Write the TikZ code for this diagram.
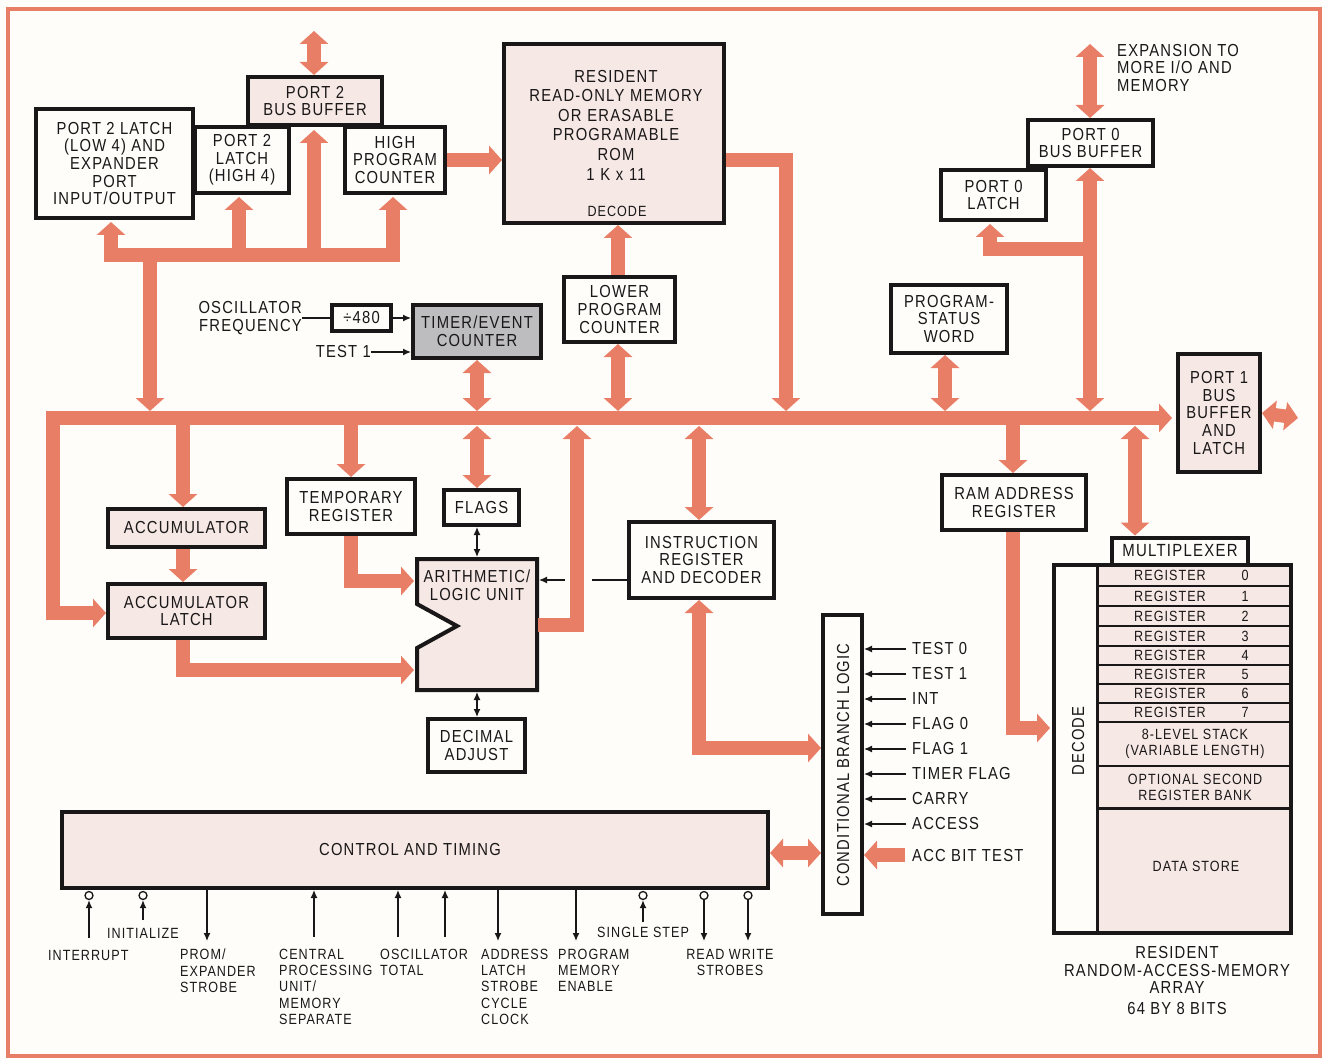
\documentclass[tikz,border=0pt]{standalone}
\usepackage{fontspec}
\setmainfont[FakeStretch=0.85,LetterSpace=7]{Liberation Sans}
\usetikzlibrary{arrows.meta}
\definecolor{salm}{HTML}{E87E66}
\definecolor{pinkf}{HTML}{F6E8E4}
\definecolor{paperc}{HTML}{FFFDFA}
\definecolor{greyf}{HTML}{BDBDBF}
\definecolor{inkc}{HTML}{1A1718}
\tikzset{
  boxn/.style={draw=inkc,line width=4pt,fill=paperc,inner sep=0pt,align=center,text=inkc,font=\txt},
  pinkn/.style={boxn,fill=pinkf},
  rown/.style={draw=inkc,line width=2.4pt,fill=pinkf,inner sep=0pt,align=center,text=inkc,font=\smtxt},
  lab/.style={inner sep=0pt,align=center,text=inkc,font=\txt},
  labl/.style={inner sep=0pt,align=left,anchor=west,text=inkc,font=\txt},
  small/.style={inner sep=0pt,align=left,anchor=west,text=inkc,font=\smtxt},
  smallc/.style={inner sep=0pt,align=center,text=inkc,font=\smtxt},
  fat/.style={draw=salm,line width=13.5pt},
  fatone/.style={fat,-{Triangle[length=13pt,width=28pt]}},
  fatboth/.style={fat,{Triangle[length=13pt,width=28pt]}-{Triangle[length=13pt,width=28pt]}},
  thin/.style={draw=inkc,line width=1.3pt},
  thinone/.style={thin,-{Latex[length=8pt,width=7pt]}},
  thinboth/.style={thin,{Latex[length=8pt,width=7pt]}-{Latex[length=8pt,width=7pt]}},
  pinc/.style={circle,draw=inkc,line width=1.3pt,fill=paperc,minimum size=8pt,inner sep=0pt},
}
\newcommand\txt{\fontsize{17.4}{17.6}\selectfont}
\newcommand\smtxt{\fontsize{14.8}{16.2}\selectfont}
\newcommand\bx[7][boxn]{%
  \pgfmathsetmacro\bxW{#5-#3-4}\pgfmathsetmacro\bxH{#6-#4-4}%
  \pgfmathsetmacro\bxX{(#3+#5)/2}\pgfmathsetmacro\bxY{(#4+#6)/2}%
  \node[#1,minimum width=\bxW pt,minimum height=\bxH pt] (#2) at (\bxX,\bxY) {#7};}
\newcommand\rw[5]{%
  \pgfmathsetmacro\bxH{#3-#2}\pgfmathsetmacro\bxY{(#3+#2)/2}%
  \node[rown,minimum width=194pt,minimum height=\bxH pt] (#1) at (1195,\bxY) {};
  \node[smallc] (#1t) at (1170,\bxY) {#4};
  \node[smallc] (#1n) at (1245,\bxY) {#5};}
\begin{document}
\begin{tikzpicture}[x=1pt,y=-1pt]
\useasboundingbox (0,0) rectangle (1322,1059);
\fill[paperc] (0,0) rectangle (1322,1059);
\draw[salm,line width=3.5pt] (8,9) rectangle (1320,1056);

% bus tap points
\coordinate (busL) at (46,418);
\coordinate (busR) at (1172,418);
\coordinate (tP2) at (150,418);
\coordinate (tLeft) at (53,418);
\coordinate (tAcc) at (183,418);
\coordinate (tTmp) at (351,418);
\coordinate (tTim) at (477,418);
\coordinate (tAlu) at (577,418);
\coordinate (tLpc) at (618,418);
\coordinate (tIns) at (699,418);
\coordinate (tRom) at (786,418);
\coordinate (tPsw) at (945,418);
\coordinate (tRam) at (1013,418);
\coordinate (tP0) at (1090,418);
\coordinate (tMux) at (1135,418);

% boxes
\bx[pinkn]{p2bb}{246}{75}{384}{127}{PORT 2\\BUS BUFFER}
\bx{p2ll}{34}{107}{195}{220}{PORT 2 LATCH\\(LOW 4) AND\\EXPANDER\\PORT\\INPUT/OUTPUT}
\bx{p2lh}{193}{125}{291}{195}{PORT 2\\LATCH\\(HIGH 4)}
\bx{hpc}{343}{125}{447}{195}{HIGH\\PROGRAM\\COUNTER}
\bx[pinkn]{rom}{502}{42}{726}{225}{}
\node[lab,text width=220pt] (romt) at (616,125) {\baselineskip=19.6pt RESIDENT\\READ-ONLY MEMORY\\OR ERASABLE\\PROGRAMABLE\\ROM\\1 K x 11\par};
\node[smallc] (romd) at (617,211) {DECODE};
\bx{lpc}{562}{275}{677}{344}{LOWER\\PROGRAM\\COUNTER}
\bx{div}{330}{303}{393}{333}{÷480}
\bx[boxn,fill=greyf]{tim}{411}{303}{543}{360}{TIMER/EVENT\\COUNTER}
\bx{psw}{889}{283}{1009}{355}{PROGRAM-\\STATUS\\WORD}
\bx{p0l}{939}{168}{1048}{222}{PORT 0\\LATCH}
\bx{p0b}{1026}{118}{1155}{168}{PORT 0\\BUS BUFFER}
\bx[pinkn]{p1}{1176}{352}{1262}{474}{PORT 1\\BUS\\BUFFER\\AND\\LATCH}
\bx[pinkn]{acc}{106}{507}{267}{549}{ACCUMULATOR}
\bx[pinkn]{lat}{106}{582}{267}{640}{ACCUMULATOR\\LATCH}
\bx{tmp}{285}{477}{417}{536}{TEMPORARY\\REGISTER}
\bx{flg}{442}{488}{521}{527}{FLAGS}
\bx{dec}{426}{717}{527}{774}{DECIMAL\\ADJUST}
\bx{ins}{627}{520}{776}{600}{INSTRUCTION\\REGISTER\\AND DECODER}
\bx{ram}{940}{473}{1088}{532}{RAM ADDRESS\\REGISTER}
\bx{cbl}{821}{613}{864}{916}{}
\node[lab,rotate=90] (cblt) at (843,765) {CONDITIONAL BRANCH LOGIC};
\bx[pinkn]{ctl}{60}{810}{770}{890}{}
\node[lab] (ctlt) at (410,850) {CONTROL AND TIMING};

% ALU
\filldraw[draw=inkc,line width=4pt,fill=pinkf,line join=miter]
  (417,559) -- (537,559) -- (537,690) -- (417,690) -- (417,648) -- (457,626) -- (417,604) -- cycle;
\node[lab] (alu) at (477,585) {ARITHMETIC/\\LOGIC UNIT};
\coordinate (aluN) at (477,557);
\coordinate (aluS) at (477,692);
\coordinate (aluE) at (538,625);
\coordinate (aluI) at (539,580);
\coordinate (aluA) at (414,581);
\coordinate (aluB) at (414,670);

% RAM array
\node[boxn,fill=paperc,minimum width=136pt,minimum height=27pt,font=\fontsize{17.6}{18}\selectfont] (mux) at (1180,551) {MULTIPLEXER};
\rw{r0}{565}{586}{REGISTER}{0}
\rw{r1}{586}{606}{REGISTER}{1}
\rw{r2}{606}{626}{REGISTER}{2}
\rw{r3}{626}{646}{REGISTER}{3}
\rw{r4}{646}{665}{REGISTER}{4}
\rw{r5}{665}{684}{REGISTER}{5}
\rw{r6}{684}{703}{REGISTER}{6}
\rw{r7}{703}{722}{REGISTER}{7}
\node[rown,minimum width=194pt,minimum height=44pt] (stk) at (1195,744) {8-LEVEL STACK\\(VARIABLE LENGTH)};
\node[rown,minimum width=194pt,minimum height=43pt] (bnk) at (1195,787.5) {OPTIONAL SECOND\\REGISTER BANK};
\node[rown,minimum width=194pt,minimum height=125pt] (dat) at (1195,871) {};
\node[smallc] (datt) at (1196,866) {DATA STORE};
\node[draw=inkc,line width=4pt,minimum width=237pt,minimum height=368pt,inner sep=0pt] (arr) at (1172.5,749) {};
\draw[draw=inkc,line width=2.8pt] (1097,565) -- (1097,933);
\node[lab,rotate=90] (dect) at (1078,741) {DECODE};
\coordinate (decW) at (1050,728);

% free text
\node[labl,align=right,anchor=east] (osc) at (302,318) {OSCILLATOR\\FREQUENCY};
\node[labl,anchor=east] (t1) at (371,352) {TEST 1};
\node[labl] (exp) at (1117,68) {EXPANSION TO\\MORE I/O AND\\MEMORY};
\node[lab] (resi) at (1177,970) {RESIDENT\\RANDOM-ACCESS-MEMORY\\ARRAY};
\node[lab] (sixt) at (1177,1009) {64 BY 8 BITS};
\coordinate (topP2) at (314,31);
\coordinate (topP0) at (1090,44);
\coordinate (p1out) at (1298,418);

% fat connectors
\draw[fatone] (busL) -- (busR);
\draw[fatboth] (topP2) -- (topP2 |- p2bb.north);
\draw[fatboth] (topP0) -- (topP0 |- p0b.north);
\coordinate (j1) at (150,255);
\draw[fatone] (j1) -- (tP2 |- 0,411);
\draw[fatone] (j1) -| (111,222);
\draw[fatone] (j1) -| (239,197);
\draw[fatone] (j1) -| (314,130);
\draw[fatone] (j1) -| (393,197);
\draw[fatone] (hpc.east) -- (hpc.east -| rom.west);
\draw[fatboth] (tim.south -| tTim) -- (tTim |- 0,411);
\draw[fatboth] (tTim |- 0,426) -- (tTim |- flg.north);
\draw[fatone] (lpc.north -| tLpc) -- (tLpc |- rom.south);
\draw[fatboth] (lpc.south -| tLpc) -- (tLpc |- 0,411);
\draw[fatboth] (psw.south -| tPsw) -- (tPsw |- 0,411);
\draw[fatone] (rom.east |- 0,160) -| (tRom |- 0,411);
\draw[fatboth] (tIns |- 0,426) -- (tIns |- ins.north);
\draw[fatboth] (tP0 |- 0,411) -- (tP0 |- p0b.south);
\coordinate (j2) at (1090,249);
\draw[fatone] (j2) -| (990,224);
\draw[fatboth] (p1.east) -- (p1out);
\draw[fatone] (tRam |- 0,424) -- (tRam |- ram.north);
\draw[fatboth] (tMux |- 0,426) -- (tMux |- mux.north);
\draw[fatone] (ram.south -| tRam) |- (decW);
\coordinate (j3) at (53,613);
\draw[fatone] (tLeft) -- (j3) -- (lat.west |- j3);
\draw[fatone] (tAcc) -- (tAcc |- acc.north);
\draw[fatone] (acc.south -| tAcc) -- (tAcc |- lat.north);
\draw[fatone] (tTmp) -- (tTmp |- tmp.north);
\draw[fatone] (tmp.south -| tTmp) |- (aluA);
\draw[fatone] (lat.south -| tAcc) |- (aluB);
\draw[fatone] (aluE) -| (tAlu |- 0,426);
\coordinate (j4) at (699,748);
\draw[fatboth] (j4 |- ins.south) |- (j4 -| cbl.west);
\coordinate (accIn) at (905,855);
\draw[fatone] (accIn) -- (accIn -| cbl.east);
\coordinate (ctlBi) at (795,853);
\draw[fatboth] (ctlBi -| ctl.east) -- (ctlBi -| cbl.west);

% thin connectors
\draw[thin] (osc.east |- div.west) -- (div.west);
\draw[thinone] (div.east) -- (div.east -| tim.west);
\draw[thinone] (t1.east) -- (t1.east -| tim.west);
\draw[thinboth] (flg.south -| aluN) -- (aluN);
\draw[thinboth] (aluS) -- (dec.north -| aluS);
\coordinate (insGapA) at (592,580);
\coordinate (insGapB) at (565,580);
\draw[thin] (ins.west |- insGapA) -- (insGapA);
\draw[thinone] (insGapB) -- (aluI);

% branch inputs
\foreach \nm/\yy/\tx in {a/649/TEST 0,b/674/TEST 1,c/699/INT,d/724/FLAG 0,e/749/FLAG 1,f/774/TIMER FLAG,g/799/CARRY,h/824/ACCESS}{
  \node[labl] (in\nm) at (912,\yy) {\tx};
  \draw[thinone] (in\nm.west) ++(-6,0) -- (in\nm.west -| cbl.east);
}
\node[labl] (inz) at (912,856) {ACC BIT TEST};

% control-line pins
\foreach \nm/\xx in {a/89,b/143,c/643,d/704,e/748}{
  \node[pinc] (pin\nm) at (\xx,895.5) {};
}
\coordinate (sa) at (89,938);
\coordinate (sb) at (143,920);
\coordinate (sc) at (207,941);
\coordinate (sd) at (314,937);
\coordinate (se) at (398,937);
\coordinate (sf) at (445,937);
\coordinate (sg) at (498,941);
\coordinate (sh) at (576,941);
\coordinate (si) at (643,922);
\coordinate (sj) at (704,941);
\coordinate (sk) at (748,941);
\draw[thinone] (sa) -- (pina.south);
\draw[thinone] (sb) -- (pinb.south);
\draw[thinone] (sc |- ctl.south) -- (sc);
\draw[thinone] (sd) -- (sd |- ctl.south);
\draw[thinone] (se) -- (se |- ctl.south);
\draw[thinone] (sf) -- (sf |- ctl.south);
\draw[thinone] (sg |- ctl.south) -- (sg);
\draw[thinone] (sh |- ctl.south) -- (sh);
\draw[thinone] (si) -- (pinc.south);
\draw[thinone] (pind.south) -- (sj);
\draw[thinone] (pine.south) -- (sk);

% control-line labels
\node[small] (l1) at (48,955) {INTERRUPT};
\node[small] (l2) at (107,933.5) {INITIALIZE};
\node[small,anchor=north west] (l3) at (180,949) {PROM/\\EXPANDER\\STROBE};
\node[small,anchor=north west] (l4) at (279,949) {CENTRAL\\PROCESSING\\UNIT/\\MEMORY\\SEPARATE};
\node[small,anchor=north west] (l5) at (380,949) {OSCILLATOR\\TOTAL};
\node[small,anchor=north west] (l6) at (481,949) {ADDRESS\\LATCH\\STROBE\\CYCLE\\CLOCK};
\node[small,anchor=north west] (l7) at (558,949) {PROGRAM\\MEMORY\\ENABLE};
\node[small] (l8) at (597,932.5) {SINGLE STEP};
\node[smallc,anchor=north] (l9) at (730,949) {READ WRITE\\STROBES};
\end{tikzpicture}
\end{document}
